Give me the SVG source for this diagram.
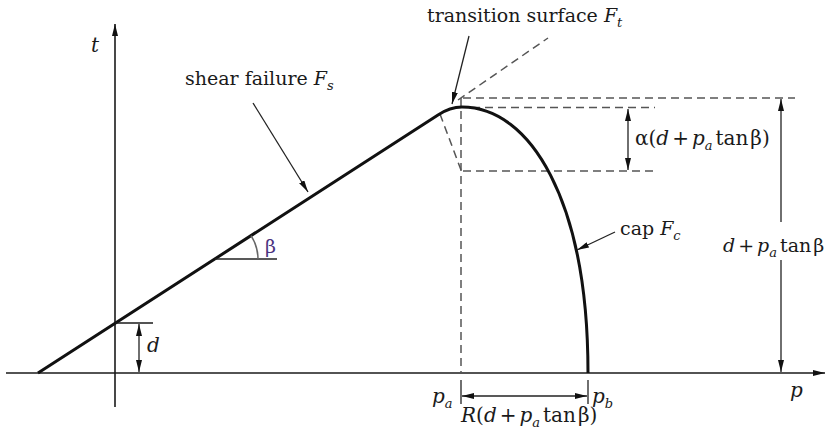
<svg xmlns="http://www.w3.org/2000/svg" width="831" height="440" viewBox="0 0 831 440">
<style>
text{font-family:"DejaVu Serif","Liberation Serif",serif;font-size:19px;fill:#1a1a1a}
.big{font-size:20px}
.i{font-style:italic}
.sub{font-size:13px;font-style:italic}
.ax{stroke:#1a1a1a;stroke-width:1.6;fill:none}
.thin{stroke:#222;stroke-width:1.3;fill:none}
.dash{stroke:#555;stroke-width:1.5;stroke-dasharray:8,5;fill:none}
.main{stroke:#111;stroke-width:3;fill:none;stroke-linejoin:round}
</style>
<defs>
<marker id="arr" viewBox="0 0 12 6" refX="12" refY="3" markerWidth="12" markerHeight="6" markerUnits="userSpaceOnUse" orient="auto-start-reverse">
<path d="M0,0 L12,3 L0,6 z" fill="#111"/>
</marker>
</defs>

<g id="axes">
<line class="ax" x1="6" y1="373" x2="825" y2="373" marker-end="url(#arr)"/>
<line class="ax" x1="115" y1="407" x2="115" y2="24" marker-end="url(#arr)"/>
<text class="i big" x="91" y="52">t</text>
<text class="i big" x="790" y="397">p</text>
</g>

<g id="guides">
<line class="dash" x1="461" y1="98" x2="461" y2="373"/>
<line class="dash" x1="463" y1="98" x2="795" y2="98"/>
<line class="dash" x1="472" y1="107.5" x2="655" y2="107.5"/>
<line class="dash" x1="463" y1="171" x2="655" y2="171"/>
<line class="dash" x1="440" y1="114" x2="461" y2="170"/>
<line class="dash" x1="458" y1="100" x2="548" y2="38"/>
</g>

<g id="yield-surface">
<path class="main" d="M38,373 L438,115 Q450,107 462,107 C530,107 588,200 588,373"/>
</g>

<g id="connectors">
<line class="thin" x1="253" y1="103" x2="308" y2="192" marker-end="url(#arr)"/>
<line class="thin" x1="469" y1="36" x2="452" y2="104" marker-end="url(#arr)"/>
<line class="thin" x1="615" y1="232" x2="577" y2="250" marker-end="url(#arr)"/>
<line class="ax" x1="115" y1="323" x2="153" y2="323"/>
<line class="thin" x1="139" y1="324" x2="139" y2="372" marker-start="url(#arr)" marker-end="url(#arr)"/>
<line class="thin" x1="215" y1="259" x2="277" y2="259"/>
<path d="M251,235.7 A43,43 0 0 1 258,259" stroke="#666" stroke-width="1.5" fill="none"/>
<line class="thin" x1="628" y1="109" x2="628" y2="170" marker-start="url(#arr)" marker-end="url(#arr)"/>
<line class="thin" x1="781" y1="99" x2="781" y2="222" marker-start="url(#arr)"/>
<line class="thin" x1="781" y1="260" x2="781" y2="372" marker-end="url(#arr)"/>
<line class="thin" x1="461" y1="380" x2="461" y2="404"/>
<line class="thin" x1="588" y1="380" x2="588" y2="404"/>
<line class="thin" x1="462" y1="396" x2="587" y2="396" marker-start="url(#arr)" marker-end="url(#arr)"/>
</g>

<g id="labels">
<text x="185" y="85">shear failure <tspan class="i">F</tspan><tspan class="sub" dy="5">s</tspan></text>
<text x="427" y="22">transition surface <tspan class="i">F</tspan><tspan class="sub" dy="5">t</tspan></text>
<text class="big" x="635" y="145">α(<tspan class="i">d</tspan><tspan dx="3">+</tspan><tspan class="i" dx="3">p</tspan><tspan class="sub" dy="5">a</tspan><tspan dy="-5" dx="3">tan</tspan><tspan dx="2">β)</tspan></text>
<text x="620" y="235">cap <tspan class="i">F</tspan><tspan class="sub" dy="5">c</tspan></text>
<text x="723" y="252"><tspan class="i">d</tspan><tspan dx="3">+</tspan><tspan class="i" dx="3">p</tspan><tspan class="sub" dy="5">a</tspan><tspan dy="-5" dx="3">tan</tspan><tspan dx="2">β</tspan></text>
<text class="i big" x="147" y="352">d</text>
<text x="265" y="253" style="fill:#4b3380">β</text>
<text class="big" x="432" y="403"><tspan class="i">p</tspan><tspan class="sub" dy="5">a</tspan></text>
<text class="big" x="592" y="403"><tspan class="i">p</tspan><tspan class="sub" dy="5">b</tspan></text>
<text class="big" x="461" y="422"><tspan class="i">R</tspan>(<tspan class="i">d</tspan><tspan dx="3">+</tspan><tspan class="i" dx="3">p</tspan><tspan class="sub" dy="5">a</tspan><tspan dy="-5" dx="3">tan</tspan><tspan dx="2">β)</tspan></text>
</g>
</svg>
